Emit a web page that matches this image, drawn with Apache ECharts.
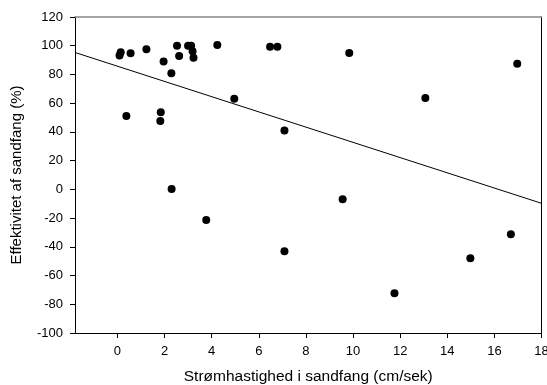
<!DOCTYPE html>
<html>
<head>
<meta charset="utf-8">
<script src="https://cdn.jsdelivr.net/npm/echarts@6/dist/echarts.min.js"></script>
<style>html,body{margin:0;padding:0;background:#fff;}#c{width:547px;height:385px;}</style>
</head>
<body>
<div id="c"></div>
<script>
// Data
const xValues = [0.09, 0.14, 0.38, 0.56, 1.23, 1.84, 1.82, 1.96, 2.29, 2.30, 2.53, 2.62, 3.0, 3.13, 3.19, 3.23, 3.77, 4.24, 4.96, 6.48, 6.79, 7.09, 7.09, 9.56, 9.84, 11.76, 13.07, 14.98, 16.7, 16.97];
const yValues = [93.2, 95.5, 51.1, 94.7, 97.5, 53.6, 47.6, 89.0, 80.9, 0.3, 100.0, 92.8, 99.9, 100.0, 96.2, 91.7, -21.3, 100.5, 63.1, 99.3, 99.3, 40.9, -43.1, -6.9, 94.9, -72.3, 63.6, -47.9, -31.3, 87.5];
const fitX = [-1.8, 18];
const fitY = [95.3, -9.7];
const xTicks = [0, 2, 4, 6, 8, 10, 12, 14, 16, 18];
const yTicks = [-100, -80, -60, -40, -20, 0, 20, 40, 60, 80, 100, 120];

const points = xValues.map((x, i) => [x, yValues[i]]);
const fit = fitX.map((x, i) => [x, fitY[i]]);
const font = 'Liberation Sans, Arial, sans-serif';

const chart = echarts.init(document.getElementById('c'), null, {renderer: 'canvas'});
chart.setOption({
  animation: false,
  backgroundColor: '#fff',
  grid: {left: 75, right: 5.5, top: 17, bottom: 52, containLabel: false, outerBoundsMode: 'none'},
  xAxis: [{
    type: 'value', min: -1.8, max: 18,
    name: 'Strømhastighed i sandfang (cm/sek)', nameLocation: 'middle', nameGap: 36,
    nameTextStyle: {fontFamily: font, fontSize: 15.5, color: '#000'},
    splitLine: {show: false},
    axisLine: {show: true, onZero: false, lineStyle: {color: '#000', width: 1}},
    axisTick: {show: true, length: 5, inside: false, customValues: xTicks, lineStyle: {color: '#000'}},
    axisLabel: {customValues: xTicks, fontFamily: font, fontSize: 13, color: '#000', margin: 12}
  }, {
    type: 'value', min: -1.8, max: 18, position: 'top',
    splitLine: {show: false},
    axisLine: {show: true, onZero: false, lineStyle: {color: '#888', width: 1.5}},
    axisTick: {show: false}, axisLabel: {show: false}
  }],
  yAxis: [{
    type: 'value', min: yTicks[0], max: yTicks[yTicks.length - 1], interval: 20,
    name: 'Effektivitet af sandfang (%)', nameLocation: 'middle', nameGap: 51,
    nameTextStyle: {fontFamily: font, fontSize: 15, color: '#000'},
    splitLine: {show: false},
    axisLine: {show: true, onZero: false, lineStyle: {color: '#000', width: 1}},
    axisTick: {show: true, length: 5, lineStyle: {color: '#000'}},
    axisLabel: {fontFamily: font, fontSize: 13, color: '#000', margin: 12}
  }, {
    type: 'value', min: yTicks[0], max: yTicks[yTicks.length - 1], position: 'right',
    splitLine: {show: false},
    axisLine: {show: true, onZero: false, lineStyle: {color: '#000', width: 1}},
    axisTick: {show: false}, axisLabel: {show: false}
  }],
  series: [{
    type: 'line', data: fit, showSymbol: false, symbol: 'none',
    lineStyle: {color: '#000', width: 1}, z: 1, silent: true
  }, {
    type: 'scatter', data: points, symbol: 'circle', symbolSize: 8,
    itemStyle: {color: '#000', opacity: 1}, z: 2
  }]
});
</script>
</body>
</html>
